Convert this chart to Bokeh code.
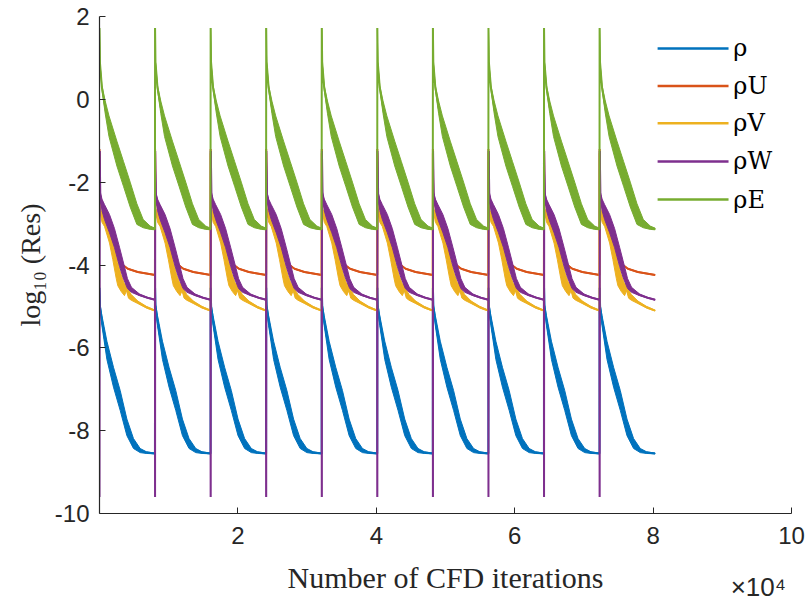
from bokeh.plotting import figure
from bokeh.models import Range1d, FixedTicker, LinearAxis
from bokeh.core.properties import value
from bokeh.embed import file_html
from bokeh.resources import INLINE

# ---- data ----
cycle_starts = [0, 8030, 16060, 24090, 32120, 40150, 48180, 56210, 64240, 72270]

names = ["ρ", "ρU", "ρV", "ρW", "ρE"]
colors = ["#0072BD", "#D95319", "#EDB120", "#7E2F8E", "#77AC30"]

# per-cycle residual profile: iteration within cycle, centre value, half band width
rho_t = [0, 72, 347, 1069, 2022, 2989, 3957, 4910, 5877, 6787, 8014]
rho_y = [-4.55, -5.0, -5.34, -6.06, -6.71, -7.27, -7.92, -8.31, -8.48, -8.53, -8.55]
rho_h = [0, 0.05, 0.12, 0.22, 0.24, 0.24, 0.2, 0.12, 0.05, 0.02, 0.01]

rhoU_t = [0, 43, 361, 722, 1444, 2166, 2599, 2888, 3365, 4087, 5531, 8014]
rhoU_y = [-1.2, -2.3, -2.55, -2.72, -3.0, -3.35, -3.7, -3.87, -4.0, -4.09, -4.17, -4.24]
rhoU_h = [0, 0.03, 0.1, 0.12, 0.15, 0.15, 0.1, 0.03, 0.02, 0.01, 0.01, 0.01]

rhoV_t = [0, 43, 361, 722, 1444, 1921, 2411, 2643, 3133, 3610, 3899, 4188, 4577, 5531, 6787, 8014]
rhoV_y = [-1.3, -2.65, -2.85, -2.92, -3.25, -3.6, -4.02, -4.22, -4.44, -4.6, -4.52, -4.7, -4.78, -4.9, -5.02, -5.1]
rhoV_h = [0, 0.03, 0.12, 0.15, 0.22, 0.27, 0.3, 0.28, 0.2, 0.14, 0.1, 0.1, 0.07, 0.03, 0.02, 0.01]

rhoW_t = [0, 22, 116, 361, 722, 1444, 2166, 2888, 3393, 4043, 4621, 5776, 6931, 8014]
rhoW_y = [-9.6, -1.25, -2.3, -2.55, -2.72, -3.0, -3.35, -3.8, -4.1, -4.45, -4.6, -4.72, -4.79, -4.84]
rhoW_h = [0, 0, 0.06, 0.14, 0.18, 0.22, 0.23, 0.23, 0.2, 0.12, 0.06, 0.02, 0.01, 0.01]

rhoE_t = [0, 58, 347, 823, 1372, 2513, 3466, 4433, 5401, 6310, 7321, 8014]
rhoE_y = [1.72, 0.9, 0.29, -0.19, -0.65, -1.31, -1.8, -2.3, -2.77, -3.0, -3.1, -3.13]
rhoE_h = [0, 0, 0.05, 0.15, 0.25, 0.3, 0.3, 0.3, 0.25, 0.1, 0.04, 0.02]

profiles = [(rho_t, rho_y, rho_h), (rhoU_t, rhoU_y, rhoU_h), (rhoV_t, rhoV_y, rhoV_h),
            (rhoW_t, rhoW_y, rhoW_h), (rhoE_t, rhoE_y, rhoE_h)]

x_ticks = [20000, 40000, 60000, 80000, 100000]
x_tick_labels = ["2", "4", "6", "8", "10"]
y_ticks = [-10, -8, -6, -4, -2, 0, 2]
y_tick_labels = ["-10", "-8", "-6", "-4", "-2", "0", "2"]
x_exponent_label = "×10⁴"

# ---- layout constants ----
leg_x0, leg_x1, leg_text_x = 80650, 90900, 91600
leg_rows = [1.23, 0.32, -0.58, -1.50, -2.42]
exp_pos = 95200

p = figure(width=809, height=604, x_range=Range1d(0, 100000), y_range=Range1d(-10, 2),
           output_backend="svg", toolbar_location=None,
           min_border_left=99, min_border_right=18, min_border_top=16, min_border_bottom=91)
p.outline_line_color = None
p.grid.visible = False

axis_col = "#262626"
for ax in (p.xaxis[0], p.yaxis[0]):
    ax.axis_line_color = axis_col
    ax.axis_line_width = 1.2
    ax.major_tick_line_color = axis_col
    ax.major_tick_in = 6
    ax.major_tick_out = 0
    ax.minor_tick_line_color = None
    ax.major_label_text_font = "Liberation Sans"
    ax.major_label_text_font_size = "24px"
    ax.major_label_text_color = axis_col

p.xaxis.ticker = FixedTicker(ticks=x_ticks)
p.xaxis.major_label_overrides = dict(zip(x_ticks, x_tick_labels))
p.yaxis.ticker = FixedTicker(ticks=y_ticks)
p.yaxis.major_label_overrides = dict(zip(y_ticks, y_tick_labels))
p.xaxis.major_label_standoff = 13
p.yaxis.major_label_standoff = 10
p.yaxis.axis_label = "log₁₀ (Res)"
p.yaxis.axis_label_text_font = "Liberation Serif"
p.yaxis.axis_label_text_font_style = "normal"
p.yaxis.axis_label_text_font_size = "28px"
p.yaxis.axis_label_text_color = axis_col
p.yaxis.axis_label_standoff = 6

# second, line-less axis under the first: carries the "×10⁴" exponent and the x title
ax2 = LinearAxis(ticker=FixedTicker(ticks=[exp_pos]),
                 major_label_overrides={exp_pos: x_exponent_label},
                 axis_line_color=None, major_tick_line_color=None, minor_tick_line_color=None,
                 major_tick_in=0, major_tick_out=0)
ax2.major_label_standoff = 25
ax2.major_label_text_font = "Liberation Sans"
ax2.major_label_text_font_size = "26px"
ax2.major_label_text_color = axis_col
ax2.axis_label = "Number of CFD iterations"
ax2.axis_label_text_font = "Liberation Serif"
ax2.axis_label_text_font_style = "normal"
ax2.axis_label_text_font_size = "30px"
ax2.axis_label_text_color = axis_col
ax2.axis_label_standoff = -44
p.add_layout(ax2, "below")

for (tt, yy, hh), col in zip(profiles, colors):
    xs_band, ys_band = [], []
    xs_line, ys_line = [], []
    for cs in cycle_starts:
        xc = [cs + t for t in tt]
        up = [y + h for y, h in zip(yy, hh)]
        lo = [y - h for y, h in zip(yy, hh)]
        xs_band.append(xc + xc[::-1])
        ys_band.append(up + lo[::-1])
        xs_line.extend(xc)
        ys_line.extend(yy)
    p.patches(xs_band, ys_band, fill_color=col, line_color=col, line_width=1)
    p.line(xs_line, ys_line, line_color=col, line_width=2)

# legend
p.segment(x0=[leg_x0] * len(names), x1=[leg_x1] * len(names), y0=leg_rows, y1=leg_rows,
          line_color=colors, line_width=2.5)
p.text(x=[leg_text_x] * len(names), y=leg_rows, text=names,
       text_font=value("DejaVu Serif"), text_font_size="24px",
       text_baseline="middle", text_align="left", text_color="#000000")

open("out.html", "w").write(file_html(p, INLINE))
